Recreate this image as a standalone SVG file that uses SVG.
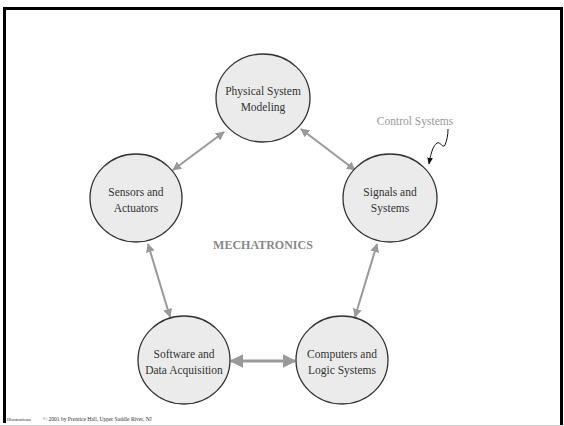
<svg xmlns="http://www.w3.org/2000/svg" width="564" height="426" viewBox="0 0 564 426">
<style>
.node ellipse{fill:#ebebeb;stroke:#333;stroke-width:1.3}
.node text{font-family:"Liberation Serif",serif;font-size:11.5px;fill:#333;text-anchor:middle}
.conn line{stroke:#999;stroke-width:2;marker-start:url(#ah);marker-end:url(#ah)}
</style>
<defs>
<marker id="ah" viewBox="0 0 10 10" refX="9" refY="5" markerWidth="4.5" markerHeight="4.5" orient="auto-start-reverse" markerUnits="strokeWidth">
<path d="M0,0 L10,5 L0,10 z" fill="#999"/>
</marker>
<marker id="bh" viewBox="0 0 10 10" refX="9" refY="5" markerWidth="7" markerHeight="7" orient="auto" markerUnits="userSpaceOnUse">
<path d="M0,1 L10,5 L0,9 z" fill="#111"/>
</marker>
</defs>
<rect width="564" height="426" fill="#fff"/>
<path d="M4.5,423 V8.5 H561.5 V425" fill="none" stroke="#000" stroke-width="3"/>
<line x1="0" y1="425.5" x2="562" y2="425.5" stroke="#ccc" stroke-width="1"/>
<g class="conn" id="connectors">
<line x1="224" y1="132" x2="173" y2="170"/>
<line x1="301" y1="129" x2="355" y2="170"/>
<line x1="148" y1="244" x2="170" y2="317"/>
<line x1="377" y1="244" x2="355" y2="317"/>
<line x1="231" y1="361" x2="295" y2="361" style="stroke-width:3;marker-start:url(#ah);marker-end:url(#ah)"/>
<path d="M448,129 C448,135 447,140 445,145 C443,149 440,141 437,143 C433,146 432,151 430,158 L429,164" fill="none" stroke="#111" stroke-width="1" marker-end="url(#bh)"/>
</g>
<g class="node" id="physical">
<ellipse cx="263" cy="98" rx="47" ry="44"/>
<text x="263" y="95">Physical System</text>
<text x="263" y="111">Modeling</text>
</g>
<g class="node" id="sensors">
<ellipse cx="136" cy="198" rx="46" ry="44"/>
<text x="136" y="196">Sensors and</text>
<text x="136" y="212">Actuators</text>
</g>
<g class="node" id="signals">
<ellipse cx="390" cy="198" rx="47" ry="44"/>
<text x="390" y="196">Signals and</text>
<text x="390" y="212">Systems</text>
</g>
<g class="node" id="software">
<ellipse cx="184" cy="360" rx="46" ry="44"/>
<text x="184" y="358">Software and</text>
<text x="184" y="374">Data Acquisition</text>
</g>
<g class="node" id="computers">
<ellipse cx="342" cy="360" rx="46" ry="44"/>
<text x="342" y="358">Computers and</text>
<text x="342" y="374">Logic Systems</text>
</g>
<text x="263" y="249" font-family="Liberation Serif,serif" font-size="12px" fill="#888" text-anchor="middle" font-weight="bold">MECHATRONICS</text>
<text x="415" y="125" font-family="Liberation Serif,serif" font-size="11.5px" fill="#999" text-anchor="middle">Control Systems</text>
<text x="7" y="421" font-family="Liberation Serif,serif" font-size="5px" fill="#333">Illustrations</text>
<text x="43" y="421" font-family="Liberation Serif,serif" font-size="5.5px" fill="#333">© 2001 by Prentice Hall, Upper Saddle River, NJ</text>
</svg>
